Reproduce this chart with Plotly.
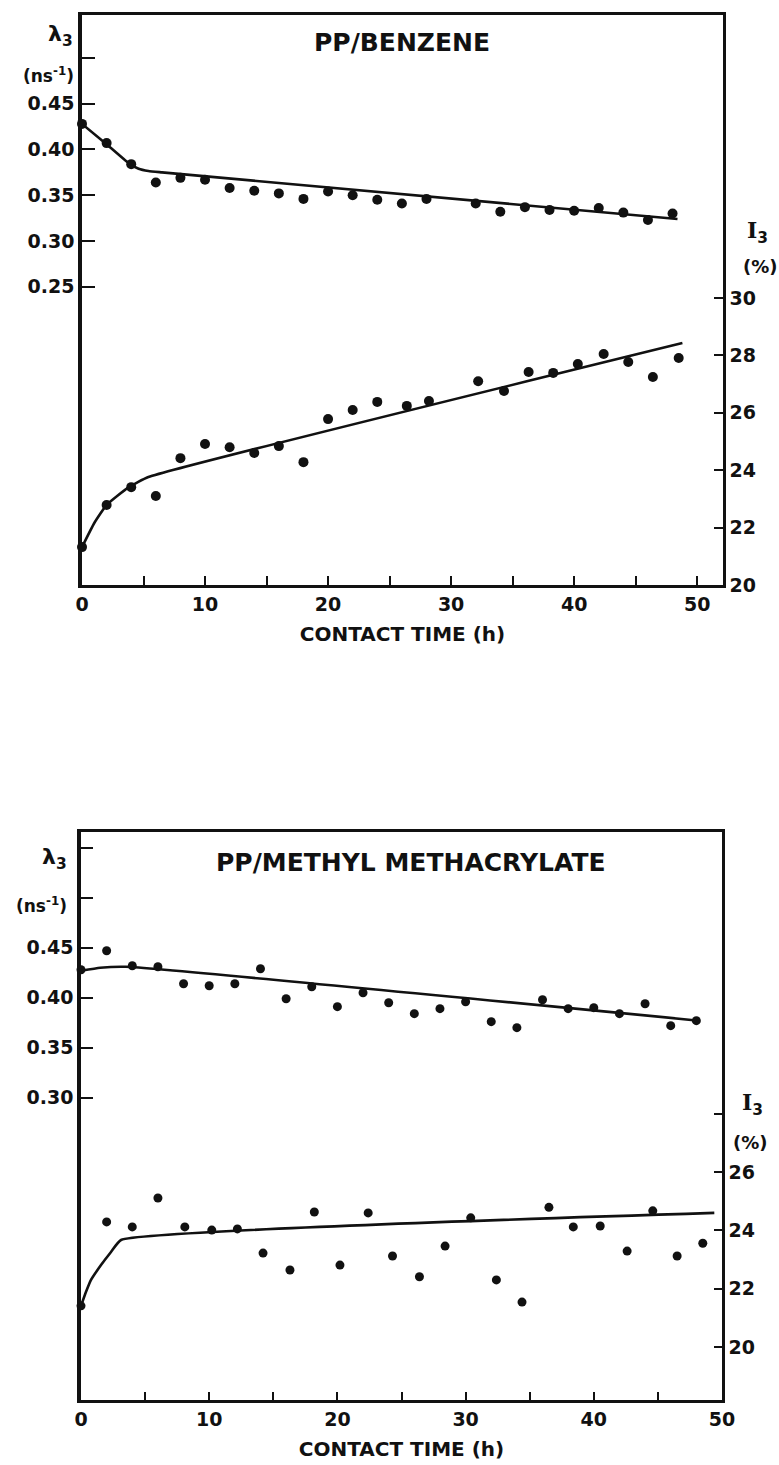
import plotly.graph_objects as go

# ---------------- data: PP / BENZENE ----------------
t_benz_lam = [0, 2, 4, 6, 8, 10, 12, 14, 16, 18, 20, 22, 24, 26, 28, 32, 34, 36, 38, 40, 42, 44, 46, 48]
benz_lam = [0.428, 0.407, 0.384, 0.364, 0.369, 0.367, 0.358, 0.355, 0.352, 0.346, 0.354, 0.350,
            0.345, 0.341, 0.346, 0.341, 0.332, 0.337, 0.334, 0.333, 0.336, 0.331, 0.323, 0.330]
fit_t_benz_lam = [0, 1.8, 3.8, 4.6, 5.4, 6.5, 48.4]
fit_benz_lam = [0.428, 0.408, 0.385, 0.379, 0.3765, 0.375, 0.324]

t_benz_i3 = [0, 2, 4, 6, 8, 10, 12, 14, 16, 18, 20, 22, 24, 26.4, 28.2, 32.2, 34.3, 36.3, 38.3, 40.3, 42.4, 44.4, 46.4, 48.5]
benz_i3 = [21.32, 22.79, 23.41, 23.10, 24.42, 24.91, 24.80, 24.60, 24.84, 24.28, 25.78, 26.10,
           26.38, 26.24, 26.41, 27.10, 26.76, 27.42, 27.39, 27.70, 28.05, 27.77, 27.25, 27.91]
fit_t_benz_i3 = [0, 1.0, 2.0, 3.8, 5.4, 48.8]
fit_benz_i3 = [21.32, 22.16, 22.79, 23.41, 23.76, 28.43]

# ---------------- data: PP / METHYL METHACRYLATE ----------------
t_mma_lam = [0, 2, 4, 6, 8, 10, 12, 14, 16, 18, 20, 22, 24, 26, 28, 30, 32, 34, 36, 38, 40, 42, 44, 46, 48]
mma_lam = [0.428, 0.447, 0.432, 0.431, 0.414, 0.412, 0.414, 0.429, 0.399, 0.411, 0.391, 0.405, 0.395,
           0.384, 0.389, 0.396, 0.376, 0.370, 0.398, 0.389, 0.390, 0.384, 0.394, 0.372, 0.377]
fit_t_mma_lam = [0, 1.5, 3.5, 48.2]
fit_mma_lam = [0.427, 0.430, 0.431, 0.377]

t_mma_i3 = [0, 2, 4, 6, 8.1, 10.2, 12.2, 14.2, 16.3, 18.2, 20.2, 22.4, 24.3, 26.4, 28.4, 30.4, 32.4,
            34.4, 36.5, 38.4, 40.5, 42.6, 44.6, 46.5, 48.5]
mma_i3 = [21.41, 24.29, 24.12, 25.11, 24.12, 24.01, 24.05, 23.22, 22.64, 24.63, 22.81, 24.60, 23.12,
          22.41, 23.46, 24.43, 22.30, 21.54, 24.79, 24.12, 24.15, 23.29, 24.67, 23.12, 23.56]
fit_t_mma_i3 = [0, 0.4, 0.78, 1.56, 2.34, 3.12, 49.4]
fit_mma_i3 = [21.41, 21.9, 22.30, 22.81, 23.26, 23.67, 24.6]

# ---------------- tick labels ----------------
x_tickvals = [0, 5, 10, 15, 20, 25, 30, 35, 40, 45, 50]
x_ticktext = ["0", "", "10", "", "20", "", "30", "", "40", "", "50"]
lam_top_vals = [0.25, 0.30, 0.35, 0.40, 0.45, 0.50]
lam_top_text = ["0.25", "0.30", "0.35", "0.40", "0.45", ""]
i3_top_vals = [20, 22, 24, 26, 28, 30]
i3_top_text = ["20", "22", "24", "26", "28", "30"]
lam_bot_vals = [0.30, 0.35, 0.40, 0.45, 0.50, 0.55]
lam_bot_text = ["0.30", "0.35", "0.40", "0.45", "", ""]
i3_bot_vals = [20, 22, 24, 26, 28]
i3_bot_text = ["20", "22", "24", "26", ""]

W, H = 779, 1465
FONT = "DejaVu Sans"
BLACK = "#111111"


def px(xp):
    return xp / W


def py(yp):
    return 1 - yp / H


fig = go.Figure()

def pts(x, y, xa, ya, size):
    fig.add_trace(go.Scatter(x=x, y=y, mode="markers", xaxis=xa, yaxis=ya, cliponaxis=False,
                             marker=dict(color=BLACK, size=size), showlegend=False))

def fit(x, y, xa, ya):
    fig.add_trace(go.Scatter(x=x, y=y, mode="lines", xaxis=xa, yaxis=ya, cliponaxis=False,
                             line=dict(color=BLACK, width=2.6, shape="spline", smoothing=0.4),
                             showlegend=False))

# top panel
fit(fit_t_benz_lam, fit_benz_lam, "x", "y")
pts(t_benz_lam, benz_lam, "x", "y", 10)
fit(fit_t_benz_i3, fit_benz_i3, "x", "y2")
pts(t_benz_i3, benz_i3, "x", "y2", 10)
# bottom panel
fit(fit_t_mma_lam, fit_mma_lam, "x2", "y3")
pts(t_mma_lam, mma_lam, "x2", "y3", 9)
fit(fit_t_mma_i3, fit_mma_i3, "x2", "y4")
pts(t_mma_i3, mma_i3, "x2", "y4", 9)

tickfont = dict(family=FONT, size=19, color=BLACK)
common = dict(showgrid=False, zeroline=False, showline=True, linecolor=BLACK, ticks="inside",
              tickcolor=BLACK, tickwidth=2, tickfont=tickfont, automargin=False, fixedrange=True)

xtitle = dict(text="<b>CONTACT TIME (h)</b>", font=dict(family=FONT, size=20, color=BLACK), standoff=14)

fig.update_layout(
    width=W, height=H, margin=dict(l=0, r=0, t=0, b=0),
    paper_bgcolor="white", plot_bgcolor="white", template="none",
    font=dict(family=FONT, color=BLACK),
    xaxis=dict(domain=[px(82), px(723)], range=[0, 52.1], anchor="y", tickvals=x_tickvals,
               ticktext=["<b>%s</b>" % t if t else "" for t in x_ticktext], ticklen=9, linewidth=3,
               mirror=True, title=xtitle, **common),
    yaxis=dict(domain=[py(585), py(15)], range=[-0.076, 0.547], anchor="x", tickvals=lam_top_vals,
               ticktext=["<b>%s</b>" % t if t else "" for t in lam_top_text], ticklen=13, linewidth=3.5,
               **common),
    yaxis2=dict(overlaying="y", side="right", anchor="x", range=[20, 39.86], tickvals=i3_top_vals,
                ticktext=["<b>%s</b>" % t for t in i3_top_text], ticklen=9, linewidth=2.5, **common),
    xaxis2=dict(domain=[px(81), px(722)], range=[0, 50], anchor="y3", tickvals=x_tickvals,
                ticktext=["<b>%s</b>" % t if t else "" for t in x_ticktext], ticklen=8, linewidth=3,
                mirror=True, title=xtitle, **common),
    yaxis3=dict(domain=[py(1400), py(832)], range=[-0.003, 0.566], anchor="x2", tickvals=lam_bot_vals,
                ticktext=["<b>%s</b>" % t if t else "" for t in lam_bot_text], ticklen=12, linewidth=3.5,
                **common),
    yaxis4=dict(overlaying="y3", side="right", anchor="x2", range=[18.18, 37.67], tickvals=i3_bot_vals,
                ticktext=["<b>%s</b>" % t if t else "" for t in i3_bot_text], ticklen=8, linewidth=2.5,
                **common),
)

def ann(text, x, y, size, xanchor="center"):
    fig.add_annotation(text=text, x=px(x), y=py(y), xref="paper", yref="paper", showarrow=False,
                       xanchor=xanchor, yanchor="middle", font=dict(family=FONT, size=size, color=BLACK))

lam_label = "<b>λ<sub>3</sub></b>"
ns_label = "<b>(ns<sup>-1</sup>)</b>"
i3_label = "<b><span style=\"font-family:'DejaVu Serif'\">I</span><sub>3</sub></b>"
pct_label = "<b>(%)</b>"

# top panel texts
ann("<b>PP/BENZENE</b>", 402, 43, 25)
ann(lam_label, 60, 36, 22)
ann(ns_label, 48, 75, 17)
ann(i3_label, 757, 232, 22)
ann(pct_label, 760, 267, 18)
# bottom panel texts
ann("<b>PP/METHYL METHACRYLATE</b>", 411, 862, 25)
ann(lam_label, 55, 858, 22)
ann(ns_label, 41, 905, 17)
ann(i3_label, 752, 1104, 22)
ann(pct_label, 750, 1142, 18)

fig.write_html(
    "out.html",
    config={"displayModeBar": False},
    post_script="document.body.style.margin='0';document.body.style.overflow='hidden';"
                "document.documentElement.style.overflow='hidden';",
)
